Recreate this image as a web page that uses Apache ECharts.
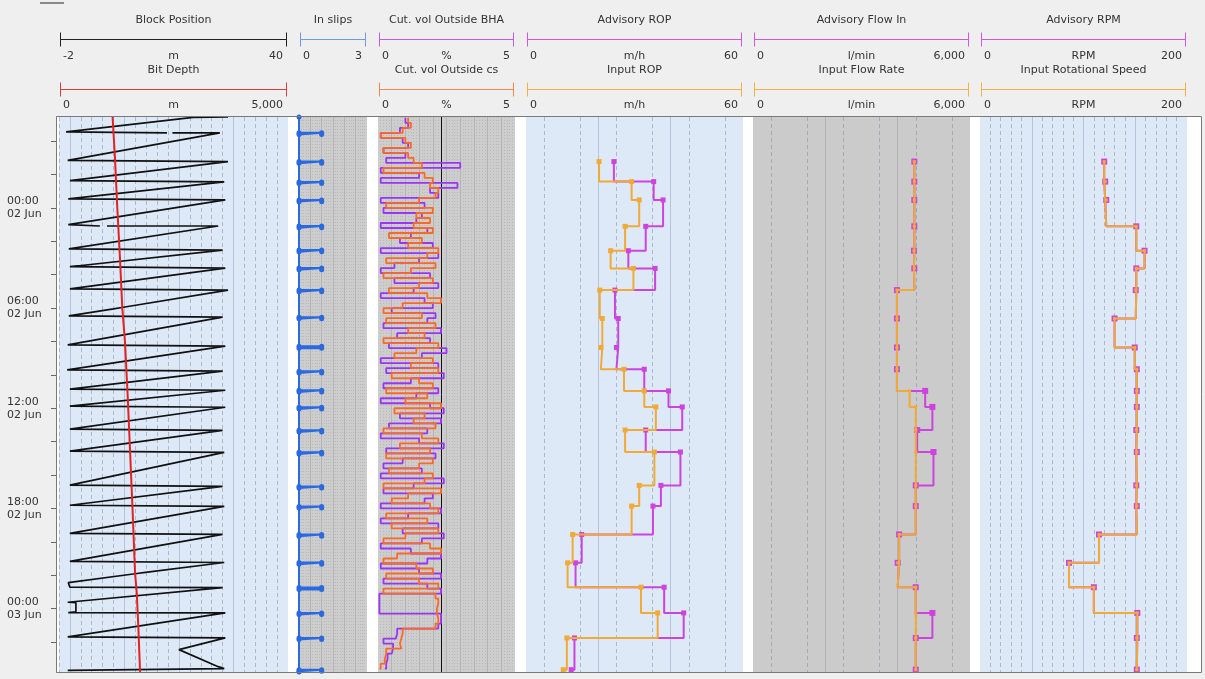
<!DOCTYPE html>
<html><head><meta charset="utf-8">
<script src="https://cdn.jsdelivr.net/npm/echarts@6/dist/echarts.min.js"></script>
<style>html,body{margin:0;padding:0;background:#efefef;}#c{width:1205px;height:679px;}</style>
</head><body><div id="c"></div>
<script>
// ================= DATA =================
// time = hours relative to 02 Jun 00:00
const timeMin = -5.45, timeMax = 27.8;
const timeTickHours = [-4, -2, 0, 2, 4, 6, 8, 10, 12, 14, 16, 18, 20, 22, 24, 26];
const timeLabelHours = [0, 6, 12, 18, 24];
const timeLabels = ['00:00\n02 Jun', '06:00\n02 Jun', '12:00\n02 Jun', '18:00\n02 Jun', '00:00\n03 Jun'];

// axis ranges
const blockRange = [-2, 40], depthRange = [0, 5000], slipsRange = [0, 3], cutRange = [0, 5];
const ropRange = [0, 60], flowRange = [0, 6000], rpmRange = [0, 200];

// header texts
const headerTitlesTop = ['Block Position', 'In slips', 'Cut. vol Outside BHA', 'Advisory ROP', 'Advisory Flow In', 'Advisory RPM'];
const headerUnitsTop = ['m', '', '%', 'm/h', 'l/min', 'RPM'];
const headerTitlesBottom = ['Bit Depth', null, 'Cut. vol Outside cs', 'Input ROP', 'Input Flow Rate', 'Input Rotational Speed'];
const headerUnitsBottom = ['m', null, '%', 'm/h', 'l/min', 'RPM'];

// block position trace (null = gap)
const blockHours = [-5.45, -5.43, -4.56, -4.5, -4.5, null, -4.5, -4.5, -2.85, -2.78, -2.78, -1.64, -1.56, -1.56,
  -0.55, -0.48, -0.48, 1.0, 1.08, 1.08, null, 1.08, 1.08, 2.45, 2.52, 2.52, 3.52, 3.6, 3.6, 4.85, 4.92, 4.92,
  5.95, 6.05, 6.46, 6.54, 6.54, 8.2, 8.28, 8.28, 9.7, 9.78, 9.78, 10.85, 10.92, 10.92, 11.87, 11.94, 11.94,
  13.25, 13.32, 13.32, 14.57, 14.64, 14.64, 16.6, 16.68, 16.68, 17.81, 17.88, 17.88, 19.49, 19.56, 19.56,
  21.17, 21.24, 21.24, 21.85, 21.9, 22.45, 22.72, 22.74, 23.62, 23.65, 24.2, 24.24, 24.26, 24.26,
  25.7, 25.76, 25.76, 26.46, 27.48, 27.6, 27.7, 27.7];
const blockMetres = [29, 22.6, -0.7, -0.7, 17.8, null, 18.8, 27.5, -0.4, -0.4, 29, 0, 0, 28.3,
  -0.3, -0.3, 28.5, -0.3, -0.3, 5.5, null, 6.8, 27.2, -0.2, -0.2, 28, 0, 0, 28.5, 0, 0, 29,
  9.8, 8.0, -0.2, -0.2, 28, -0.4, -0.4, 28.5, -0.5, -0.5, 28, 0, 0, 28.5, 0, 0, 28.5,
  0, 0, 28, 0, 0, 28.3, 0, 0, 28, 0, 0, 28.3, 0, 0, 28,
  0, 0, 28.3, 13.5, 12.3, -0.3, 0, 28, -0.4, 1.1, 1.1, -0.3, -0.3, 28.5,
  -0.4, -0.4, 28.5, 20.0, 27.2, 28.3, 28.3, -0.4];

// bit depth
const depthHours = [-5.45, -2.94, 0, 3.06, 6, 8.04, 11.28, 14.46, 18, 21.84, 23.04, 25.08, 27.8];
const depthMetres = [1170, 1223, 1273, 1332, 1382, 1441, 1500, 1550, 1605, 1660, 1697, 1732, 1770];

// in slips events
const slipsStart = [-4.5, -2.78, -1.56, -0.48, 1.08, 2.52, 3.6, 4.92, 6.54, 8.28, 9.78, 10.92, 11.94, 13.32,
  14.64, 16.68, 17.88, 19.56, 21.24, 22.74, 24.26, 25.76, 27.66];
const slipsEnd = [-4.4, -2.68, -1.46, -0.38, 1.18, 2.62, 3.7, 5.02, 6.64, 8.4, 9.88, 11.02, 12.04, 13.42,
  14.74, 16.78, 17.98, 19.66, 21.34, 22.86, 24.36, 25.86, 27.76];

// cuttings volume (sampled every 0.3 h from -5.4 h)
const cutStartHour = -5.4, cutStepHours = 0.3;
const cutBHA = [
  1.0, 1.1, 0.8, 0.1, 0.9, 1.1, 0.2, 1.0, 0.3, 3.0,
  0.1, 1.5, 0.1, 2.9, 1.9, 2.2, 0.1, 1.7, 0.2, 1.6,
  1.4, 0.1, 1.8, 1.2, 0.8, 2.0, 0.1, 2.2, 1.5, 0.6,
  0.1, 1.9, 0.6, 2.2, 1.3, 0.1, 1.7, 2.0, 0.5, 2.1,
  1.8, 0.2, 2.3, 0.7, 1.9, 0.4, 2.5, 1.6, 0.1, 2.2,
  0.3, 2.4, 1.2, 0.2, 2.2, 1.4, 0.1, 1.9, 2.4, 0.8,
  2.3, 0.4, 1.8, 0.1, 1.5, 2.4, 0.3, 2.1, 0.9, 0.2,
  1.6, 0.1, 2.4, 1.3, 0.2, 2.0, 1.7, 0.1, 2.3, 1.1,
  0.1, 2.2, 0.9, 2.4, 1.6, 0.1, 1.2, 2.3, 1.8, 0.1,
  1.5, 2.3, 0.2, 1.8, 2.3, 0.05, 0.05, 0.05, 0.05, 2.3,
  2.3, 2.2, 0.7, 0.65, 0.2, 0.55, 0.5, 0.35, 0.3, 0.3, 0.25];
const cutCS = [
  1.1, 1.2, 0.9, 0.1, 1.0, 1.2, 0.2, 1.1, 1.3, 1.6,
  0.2, 1.7, 2.0, 1.9, 2.2, 2.1, 1.5, 0.3, 2.0, 1.4,
  1.9, 1.3, 2.0, 0.4, 1.6, 1.1, 2.2, 1.8, 0.3, 2.1,
  1.2, 0.2, 2.0, 1.5, 0.4, 1.8, 2.3, 0.9, 0.2, 1.6,
  0.3, 2.1, 1.1, 1.7, 0.2, 2.2, 1.4, 0.6, 2.0, 1.2,
  2.2, 0.5, 1.5, 2.0, 0.3, 1.8, 1.0, 2.3, 0.6, 1.7,
  1.3, 2.1, 0.2, 1.6, 2.2, 0.8, 1.9, 0.3, 2.0, 1.5,
  0.4, 2.0, 1.7, 0.2, 2.3, 1.1, 0.5, 1.9, 2.2, 0.3,
  1.8, 0.5, 2.2, 1.0, 0.2, 1.9, 2.3, 0.7, 0.2, 1.4,
  2.0, 0.3, 1.5, 2.2, 0.2, 2.1, 2.2, 2.15, 2.15, 2.2,
  2.2, 2.1, 0.9, 0.85, 0.8, 0.85, 0.3, 0.25, 0.25, 0.1, 0.05];
const cutThreshold = 2.3;

// advisory / input step values
const stepHours = [-2.78, -1.58, -0.48, 1.10, 2.56, 3.62, 4.92, 6.62, 8.36, 9.66, 10.96, 11.92, 13.30, 14.62,
  16.62, 17.86, 19.56, 21.26, 22.72, 24.26, 25.76, 27.66];
const ropAdvisory = [24.3, 35.3, 37.9, 33.1, 28.3, 35.7, 24.6, 25.5, 25.0, 32.7, 39.4, 43.2, 33.1, 42.7,
  37.3, 35.1, 15.4, 13.7, 38.2, 43.6, 13.4, 12.5];
const ropInput = [20.2, 29.2, 31.3, 27.4, 23.4, 29.7, 20.4, 21.1, 20.7, 27.1, 32.7, 35.9, 27.4, 35.5,
  31.3, 29.2, 12.9, 11.5, 31.8, 36.4, 11.3, 10.3];
const flowAdvisory = [4460, 4460, 4460, 4460, 4450, 4460, 3980, 3980, 3980, 3980, 4760, 4960, 4540, 4990,
  4500, 4500, 4040, 4000, 4500, 4960, 4500, 4500];
const flowInput = [4460, 4460, 4460, 4460, 4450, 4460, 3980, 3980, 3980, 3980, 4330, 4500, 4500, 4500,
  4500, 4500, 4040, 4000, 4500, 4500, 4500, 4500];
const rpmAdvisory = [120, 121, 122, 151, 159, 151, 150.5, 130, 149.5, 151.5, 151.5, 151.5, 151, 151.5,
  151, 151.5, 115, 86, 110, 152, 151.5, 151.5];
const rpmInput = [120, 121, 122, 151, 159, 151, 150.5, 130, 149.5, 151.5, 151.5, 151.5, 151, 151.5,
  151, 151.5, 115, 86, 110, 152, 151.5, 151.5];

// grid line values (axis units)
const blockGridMajor = [0, 10, 20, 30];
const blockGridMinor = [-2, 2, 4, 6, 8, 12, 14, 16, 18, 22, 24, 26, 28, 32, 34, 36, 38];
const ropGridMajor = [20, 40], ropGridMinor = [5, 15, 25, 35, 45, 55];
const flowGridMajor = [2000, 4000], flowGridMinor = [500, 1500, 2500, 3500, 4500, 5500];
const rpmGridMajor = [50, 100, 150];
const rpmGridMinor = [10, 20, 30, 40, 60, 70, 80, 90, 110, 120, 130, 140, 160, 170, 180, 190];
const slipsGridMajor = [0.5, 1, 1.5, 2, 2.5];
const cutGridMajor = [0.5, 1, 1.5, 2, 2.5, 3, 3.5, 4, 4.5];

// ================= LAYOUT / STYLE =================
const FONT = 'DejaVu Sans';
const TOP = 117, H = 555;
const tracks = [
  {left: 59, width: 229, bg: '#dde9f7'},
  {left: 299, width: 68, bg: '#cdcdcd'},
  {left: 378, width: 137, bg: '#cdcdcd'},
  {left: 526, width: 217, bg: '#dde9f7'},
  {left: 753, width: 217, bg: '#cbcbcb'},
  {left: 980, width: 207, bg: '#dde9f7'}
];
const headerColorsTop = ['#222222', '#6f9be3', '#c05ce6', '#d158d8', '#d158d8', '#d158d8'];
const headerColorsBottom = ['#e03a3a', null, '#f08a4a', '#f0b244', '#f0b244', '#f0b244'];
const headerRangesTop = [blockRange, slipsRange, cutRange, ropRange, flowRange, rpmRange];
const headerRangesBottom = [depthRange, null, cutRange, ropRange, flowRange, rpmRange];

const lightMajor = {color: '#b5c5d7', width: 1, type: 'solid'};
const lightMinor = {color: '#a9bace', width: 1, type: [4, 3]};
const greyMajor = {color: '#b4b4b4', width: 1, type: 'solid'};
const greyMinor = {color: '#9fabb6', width: 1, type: [4, 3]};
const greyDot = {color: '#bababa', width: 1, type: [1, 2]};

const ADV = '#cc44dd', INP = '#f0aa38';

function steps(a, b, s) { const o = []; for (let k = 0; a + k * s <= b + 1e-9; k++) o.push(+(a + k * s).toFixed(3)); return o; }
function notIn(list, arr) { return list.filter(v => !arr.some(m => Math.abs(m - v) < 1e-6)); }
function gridLines(major, minor, majStyle, minStyle, extra) {
  const data = minor.map(v => ({xAxis: v, lineStyle: minStyle}))
    .concat(major.map(v => ({xAxis: v, lineStyle: majStyle})))
    .concat(extra || []);
  return {silent: true, symbol: ['none', 'none'], label: {show: false}, z: 1, animation: false,
    emphasis: {disabled: true}, data: data};
}

// ================= BUILD =================
const grids = [{left: 56, top: TOP, width: 1145, height: H, show: true, backgroundColor: '#ffffff', borderWidth: 0}]
  .concat(tracks.map(t => ({left: t.left, top: TOP, width: t.width, height: H, show: true, backgroundColor: t.bg, borderWidth: 0})));

const hx = (g, r) => ({type: 'value', gridIndex: g, min: r[0], max: r[1], show: false});
const xAxes = [
  {type: 'value', gridIndex: 0, min: 0, max: 1, show: false},
  hx(1, blockRange), hx(1, depthRange), hx(2, slipsRange), hx(3, cutRange),
  hx(4, ropRange), hx(5, flowRange), hx(6, rpmRange)
];
const yAxes = [0, 1, 2, 3, 4, 5, 6].map(g => ({type: 'value', gridIndex: g, inverse: true, min: timeMin, max: timeMax, show: false}));
yAxes[0] = {
  type: 'value', gridIndex: 0, inverse: true, min: timeMin, max: timeMax, show: true,
  axisLine: {show: true, lineStyle: {color: '#666'}},
  axisTick: {show: true, length: 5, customValues: timeTickHours, lineStyle: {color: '#666'}},
  axisLabel: {show: true, customValues: timeLabelHours, align: 'left', margin: 49, color: '#333',
    fontFamily: FONT, fontSize: 11, lineHeight: 13,
    formatter: v => { const i = timeLabelHours.findIndex(h => Math.abs(h - v) < 1e-6); return i >= 0 ? timeLabels[i] : ''; }},
  splitLine: {show: false}
};

const blockData = blockHours.map((h, i) => (h === null ? ['-', '-'] : [blockMetres[i], h]));
const depthData = depthHours.map((h, i) => [depthMetres[i], h]);
const slipsData = [[0, timeMin]];
slipsStart.forEach((s, i) => { slipsData.push([0, s], [1, s], [1, slipsEnd[i]], [0, slipsEnd[i]]); });
slipsData.push([0, timeMax]);
const cutHour = i => +(cutStartHour + i * cutStepHours).toFixed(2);
const stepSeries = (vals) => vals.map((v, i) => [v, stepHours[i]]);

const series = [
  {type: 'line', name: 'Block Position', xAxisIndex: 1, yAxisIndex: 1, data: blockData, symbol: 'none', z: 3,
    connectNulls: false, lineStyle: {color: '#111', width: 1.7},
    markLine: gridLines(blockGridMajor, blockGridMinor, lightMajor, lightMinor)},
  {type: 'line', name: 'Bit Depth', xAxisIndex: 2, yAxisIndex: 1, data: depthData, symbol: 'none', z: 4,
    lineStyle: {color: '#e02424', width: 2}},
  {type: 'line', name: 'In slips', xAxisIndex: 3, yAxisIndex: 2, data: slipsData, symbol: 'circle', symbolSize: 5, z: 3,
    lineStyle: {color: '#2a6ae0', width: 2}, itemStyle: {color: '#2a6ae0'},
    markLine: gridLines(slipsGridMajor, notIn(steps(0.1, 2.9, 0.1), slipsGridMajor), greyMajor, greyDot)},
  {type: 'line', name: 'Cut. vol Outside BHA', xAxisIndex: 4, yAxisIndex: 3, data: cutBHA.map((v, i) => [v, cutHour(i)]),
    step: 'start', symbol: 'none', z: 3, lineStyle: {color: '#9a35f5', width: 1.8},
    markLine: gridLines(cutGridMajor, notIn(steps(0.1, 4.9, 0.1), cutGridMajor), greyMajor, greyDot,
      [{xAxis: cutThreshold, lineStyle: {color: '#111', width: 1, type: 'solid'}}])},
  {type: 'line', name: 'Cut. vol Outside cs', xAxisIndex: 4, yAxisIndex: 3, data: cutCS.map((v, i) => [v, cutHour(i)]),
    step: 'start', symbol: 'none', z: 4, lineStyle: {color: '#fa6a25', width: 1.8}},
  {type: 'line', name: 'Advisory ROP', xAxisIndex: 5, yAxisIndex: 4, data: stepSeries(ropAdvisory), step: 'start',
    symbol: 'rect', symbolSize: 5, z: 3, lineStyle: {color: ADV, width: 2}, itemStyle: {color: ADV},
    markLine: gridLines(ropGridMajor, ropGridMinor, lightMajor, lightMinor)},
  {type: 'line', name: 'Input ROP', xAxisIndex: 5, yAxisIndex: 4, data: stepSeries(ropInput), step: 'start',
    symbol: 'rect', symbolSize: 5, z: 4, lineStyle: {color: INP, width: 2}, itemStyle: {color: INP}},
  {type: 'line', name: 'Advisory Flow In', xAxisIndex: 6, yAxisIndex: 5, data: stepSeries(flowAdvisory), step: 'start',
    symbol: 'rect', symbolSize: 6, z: 3, lineStyle: {color: ADV, width: 2}, itemStyle: {color: ADV},
    markLine: gridLines(flowGridMajor, flowGridMinor, greyMajor, greyMinor)},
  {type: 'line', name: 'Input Flow Rate', xAxisIndex: 6, yAxisIndex: 5, data: stepSeries(flowInput), step: 'start',
    symbol: 'rect', symbolSize: 3, z: 4, lineStyle: {color: INP, width: 2}, itemStyle: {color: INP}},
  {type: 'line', name: 'Advisory RPM', xAxisIndex: 7, yAxisIndex: 6, data: stepSeries(rpmAdvisory), step: 'start',
    symbol: 'rect', symbolSize: 6, z: 3, lineStyle: {color: ADV, width: 2}, itemStyle: {color: ADV},
    markLine: gridLines(rpmGridMajor, rpmGridMinor, lightMajor, lightMinor)},
  {type: 'line', name: 'Input Rotational Speed', xAxisIndex: 7, yAxisIndex: 6, data: stepSeries(rpmInput), step: 'start',
    symbol: 'rect', symbolSize: 3, z: 4, lineStyle: {color: INP, width: 2}, itemStyle: {color: INP}}
];

// header graphics
const fmt = v => Number(v).toLocaleString('en-US');
const els = [];
const txt = (text, x, y, align) => ({type: 'text', z: 50, silent: true,
  style: {text: text, x: x, y: y, fill: '#333', font: '11px "' + FONT + '"', align: align, verticalAlign: 'middle'}});
const hline = (x1, x2, y, c) => {
  els.push({type: 'line', z: 50, silent: true, shape: {x1: x1, y1: y, x2: x2, y2: y}, style: {stroke: c, lineWidth: 1}});
  els.push({type: 'line', z: 50, silent: true, shape: {x1: x1 + 0.5, y1: y - 7, x2: x1 + 0.5, y2: y + 7}, style: {stroke: c, lineWidth: 1}});
  els.push({type: 'line', z: 50, silent: true, shape: {x1: x2 - 0.5, y1: y - 7, x2: x2 - 0.5, y2: y + 7}, style: {stroke: c, lineWidth: 1}});
};
tracks.forEach((t, k) => {
  const x1 = t.left + 1, x2 = t.left + t.width - 1, cx = (x1 + x2) / 2;
  const rows = [
    {title: headerTitlesTop[k], unit: headerUnitsTop[k], range: headerRangesTop[k], color: headerColorsTop[k], yT: 20, yL: 39.5, yV: 56},
    {title: headerTitlesBottom[k], unit: headerUnitsBottom[k], range: headerRangesBottom[k], color: headerColorsBottom[k], yT: 70, yL: 89.5, yV: 105}
  ];
  rows.forEach(r => {
    if (r.title === null) return;
    els.push(txt(r.title, cx, r.yT, 'center'));
    hline(x1, x2, r.yL, r.color);
    els.push(txt(fmt(r.range[0]), x1 + 3, r.yV, 'left'));
    if (r.unit) els.push(txt(r.unit, cx, r.yV, 'center'));
    els.push(txt(fmt(r.range[1]), x2 - 4, r.yV, 'right'));
  });
});
// frame border and small top-left mark
els.push({type: 'rect', z: 60, silent: true, shape: {x: 56.5, y: 116.5, width: 1145, height: 556}, style: {fill: 'none', stroke: '#7a7a7a', lineWidth: 1}});
els.push({type: 'rect', z: 60, silent: true, shape: {x: 40, y: 2, width: 24, height: 2}, style: {fill: '#8a8a8a'}});

const chart = echarts.init(document.getElementById('c'), null, {renderer: 'canvas', width: 1205, height: 679});
chart.setOption({
  animation: false,
  backgroundColor: '#efefef',
  textStyle: {fontFamily: FONT},
  grid: grids,
  xAxis: xAxes,
  yAxis: yAxes,
  series: series,
  graphic: {elements: els}
});
</script></body></html>
